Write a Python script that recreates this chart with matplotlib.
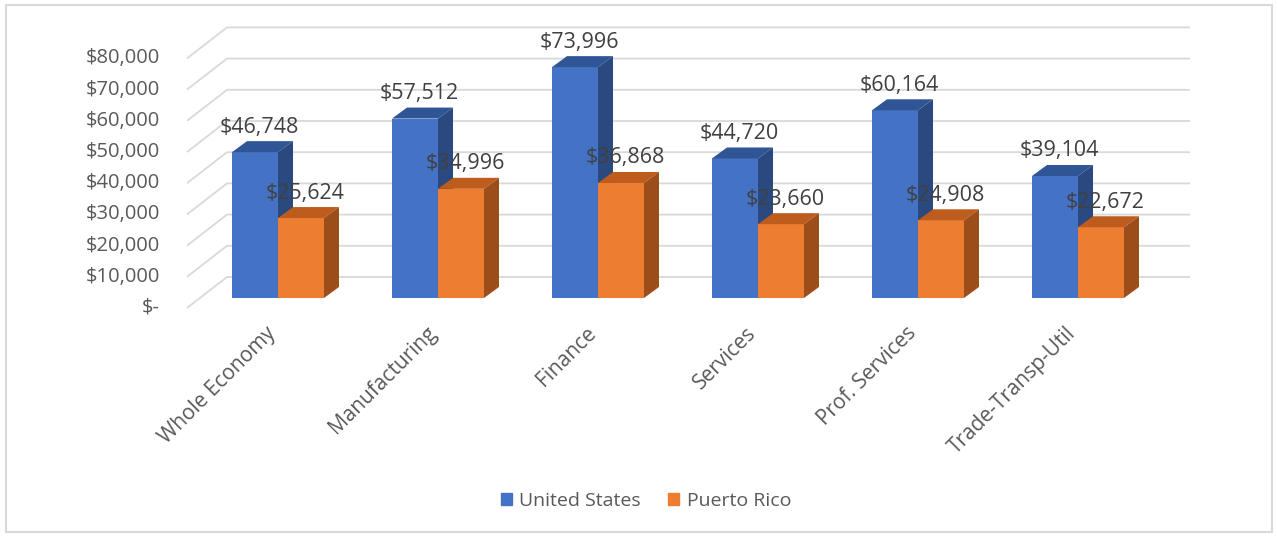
import matplotlib.pyplot as plt
import matplotlib.patches as mpatches
from matplotlib.patches import Polygon, Rectangle
import numpy as np

categories = ['Whole Economy', 'Manufacturing', 'Finance', 'Services',
              'Prof. Services', 'Trade-Transp-Util']
us_values = [46748, 57512, 73996, 44720, 60164, 39104]
pr_values = [25624, 34996, 36868, 23660, 24908, 22672]
series_names = ['United States', 'Puerto Rico']
y_ticks = [0, 10000, 20000, 30000, 40000, 50000, 60000, 70000, 80000]
y_tick_labels = ['$-', '$10,000', '$20,000', '$30,000', '$40,000',
                 '$50,000', '$60,000', '$70,000', '$80,000']

plt.rcParams['font.family'] = ['Open Sans', 'DejaVu Sans']

W, H = 1277, 537
fig = plt.figure(figsize=(W / 100, H / 100), dpi=100)
ax = fig.add_axes([0, 0, 1, 1])

# pixel geometry of the pseudo-3d scene
px_per_cat = 160.0
px_per_dollar = 31.2 / 10000
x0_px = 278.0      # centre of first group
base_px = 298.0    # bar baseline (front plane)
ax.set_xlim(-x0_px / px_per_cat, (W - x0_px) / px_per_cat)
ax.set_ylim((base_px - H) / px_per_dollar, base_px / px_per_dollar)
ax.axis('off')

def dx(px):
    return px / px_per_cat

def dy(px):
    return px / px_per_dollar

bar_w = dx(46)
depth_x, depth_y = dx(15), dy(11)
floor_front = (dx(-13), dy(-10))
floor_back = (dx(27), dy(21))

grid_col = '#D9D9D9'
text_col = '#595959'

# back wall gridlines plus the floor diagonals on the left
left_x = dx(187 - x0_px) - floor_front[0]
right_x = dx(1190 - x0_px)
for t, lab in zip(y_ticks, y_tick_labels):
    xa, ya = left_x + floor_front[0], t + floor_front[1]
    xb, yb = left_x + floor_back[0], t + floor_back[1]
    ax.plot([xa, xb, right_x], [ya, yb, yb], color=grid_col, lw=1.3,
            zorder=1, solid_capstyle='butt')
    ax.text(xa - dx(27), ya, lab, ha='right', va='center',
            fontsize=14.5, color=text_col)

x = np.arange(len(categories))
colors = [('#4472C4', '#2F5597', '#2A4A7F'),
          ('#ED7D31', '#BE5C1E', '#9C4E1A')]

for k, (vals, offs) in enumerate([(us_values, -bar_w), (pr_values, 0.0)]):
    front, top, side = colors[k]
    bars = ax.bar(x + offs, vals, width=bar_w, align='edge', color=front,
                  linewidth=0, zorder=2 + k)
    for rect, v in zip(bars, vals):
        xl = rect.get_x()
        xr = xl + rect.get_width()
        ax.add_patch(Polygon([(xl, v), (xl + depth_x, v + depth_y),
                              (xr + depth_x, v + depth_y), (xr, v)],
                             closed=True, color=top, lw=0, zorder=2 + k))
        ax.add_patch(Polygon([(xr, 0), (xr + depth_x, depth_y),
                              (xr + depth_x, v + depth_y), (xr, v)],
                             closed=True, color=side, lw=0, zorder=2 + k))
        ax.text(xl + (bar_w + depth_x) / 2 - dx(3), v + dy(25), f'${v:,}',
                ha='center', va='center', fontsize=15.5, color='#404040',
                zorder=10)

# rotated category labels
for i, c in enumerate(categories):
    ax.text(i - dx(5), dy(-32), c, rotation=45, rotation_mode='anchor',
            ha='right', va='center', fontsize=15, color=text_col)

handles = [mpatches.Patch(color=colors[0][0], label=series_names[0]),
           mpatches.Patch(color=colors[1][0], label=series_names[1])]
ax.legend(handles=handles, loc='center', bbox_to_anchor=(0.506, 0.067),
          ncol=2, frameon=False, fontsize=14, handlelength=0.55,
          handleheight=0.55, handletextpad=0.4, columnspacing=1.4,
          labelcolor=text_col)

# chart area border
fig.patches.append(Rectangle((6 / W, 5 / H), 1266 / W, 527 / H,
                             transform=fig.transFigure, fill=False,
                             edgecolor=grid_col, lw=1.5))

fig.savefig('out.png', dpi=100, facecolor='white')
